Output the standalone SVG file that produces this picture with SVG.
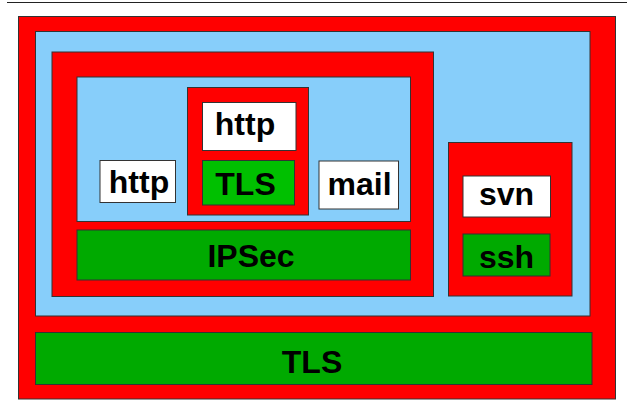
<svg xmlns="http://www.w3.org/2000/svg" width="627" height="411" viewBox="0 0 627 411">
<style>
.box{stroke:#333;stroke-width:1}
.red{fill:#ff0000}
.blue{fill:#87cefa}
.white{fill:#ffffff}
.green{fill:#00aa00}
.lgreen{fill:#00c000}
text{font-family:"Liberation Sans",Arial,sans-serif;font-weight:bold;font-size:32px;fill:#000;text-anchor:middle}
</style>
<rect width="627" height="411" fill="#fff"/>
<line x1="7" y1="2.5" x2="627" y2="2.5" stroke="#222" stroke-width="1.2"/>
<g id="outer">
<rect class="box red" x="18.5" y="16.5" width="597" height="382.5"/>
<rect class="box blue" x="35.5" y="31.5" width="554.5" height="284.5"/>
</g>
<g id="left-red">
<rect class="box red" x="52" y="52" width="381.5" height="244.5"/>
<rect class="box blue" x="77" y="77" width="333.5" height="144.5"/>
</g>
<g id="http-left">
<rect class="box white" x="100" y="160.5" width="75.5" height="42"/>
<text x="139" y="193">http</text>
</g>
<g id="tls-box">
<rect class="box red" x="187.5" y="87.5" width="121" height="127.5"/>
</g>
<g id="http-top">
<rect class="box white" x="202.5" y="102.5" width="93.5" height="48"/>
<text x="245" y="135">http</text>
</g>
<g id="tls-inner">
<rect class="box lgreen" x="202.5" y="160.5" width="92" height="44.5"/>
<text x="245.5" y="195">TLS</text>
</g>
<g id="mail">
<rect class="box white" x="319" y="161" width="79.5" height="48"/>
<text x="359.5" y="195">mail</text>
</g>
<g id="ipsec">
<rect class="box green" x="77" y="230" width="333.5" height="50"/>
<text x="251" y="267">IPSec</text>
</g>
<g id="right-red">
<rect class="box red" x="448.5" y="142.5" width="123.5" height="153.5"/>
</g>
<g id="svn">
<rect class="box white" x="463" y="176" width="87.5" height="41"/>
<text x="506.5" y="205">svn</text>
</g>
<g id="ssh">
<rect class="box green" x="463" y="234" width="87" height="42"/>
<text x="506.5" y="268">ssh</text>
</g>
<g id="tls-bottom">
<rect class="box green" x="35.5" y="332.5" width="556.5" height="52"/>
<text x="312" y="373">TLS</text>
</g>
<g id="connectors"/>
</svg>
